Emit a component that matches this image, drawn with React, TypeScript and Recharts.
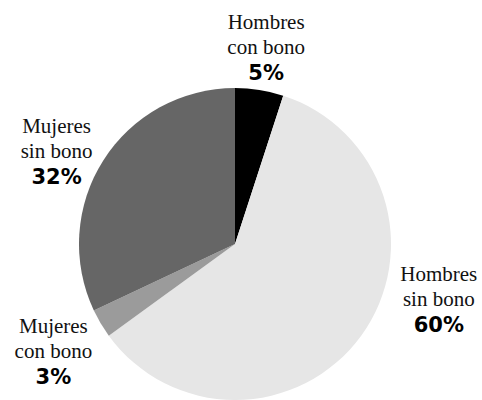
import React from "react";
import { PieChart, Pie, Cell } from "recharts";

const NAME_LINE1 = ["Hombres", "Hombres", "Mujeres", "Mujeres"];
const NAME_LINE2 = ["con bono", "sin bono", "con bono", "sin bono"];
const SHARES = [5, 60, 3, 32];

const COLORS = ["#000000", "#e6e6e6", "#9b9b9b", "#666666"];

// label nudges (angle in degrees, extra radius in px) per slice
const LABEL_ANGLE_SHIFT = [0, 21, 0, 5];
const LABEL_EXTRA_R = [43, 55, 55, 45];

const RAD = Math.PI / 180;

function renderLabel(props: any) {
  const { cx, cy, midAngle, outerRadius, index } = props;
  const a = midAngle + LABEL_ANGLE_SHIFT[index];
  const r = outerRadius + LABEL_EXTRA_R[index];
  const x = cx + r * Math.cos(-a * RAD);
  const y = cy + r * Math.sin(-a * RAD);
  // y is block centre; first baseline sits 18px above
  const b = y - 18;
  return (
    <g>
      <text
        x={x}
        y={b}
        textAnchor="middle"
        fill="#111"
        style={{ fontFamily: "'Liberation Serif', 'Times New Roman', serif", fontSize: 21 }}
      >
        <tspan x={x} y={b}>{NAME_LINE1[index]}</tspan>
        <tspan x={x} y={b + 25}>{NAME_LINE2[index]}</tspan>
      </text>
      <text
        x={x}
        y={b + 51}
        textAnchor="middle"
        fill="#000"
        style={{ fontFamily: "'DejaVu Sans', Arial, sans-serif", fontSize: 21, fontWeight: 700 }}
      >
        {SHARES[index]}%
      </text>
    </g>
  );
}

export default function App() {
  const data = SHARES.map((v, i) => ({ name: `${NAME_LINE1[i]} ${NAME_LINE2[i]}`, value: v }));

  return (
    <div style={{ position: "absolute", left: 0, top: 0, width: 482, height: 400, background: "#fff" }}>
      <PieChart width={482} height={400} margin={{ top: 0, right: 0, bottom: 0, left: 0 }}>
        <Pie
          data={data}
          dataKey="value"
          nameKey="name"
          cx={235}
          cy={244}
          outerRadius={156}
          startAngle={90}
          endAngle={-270}
          stroke="none"
          labelLine={false}
          label={renderLabel}
          isAnimationActive={false}
        >
          {data.map((_, i) => (
            <Cell key={i} fill={COLORS[i]} />
          ))}
        </Pie>
      </PieChart>
    </div>
  );
}
